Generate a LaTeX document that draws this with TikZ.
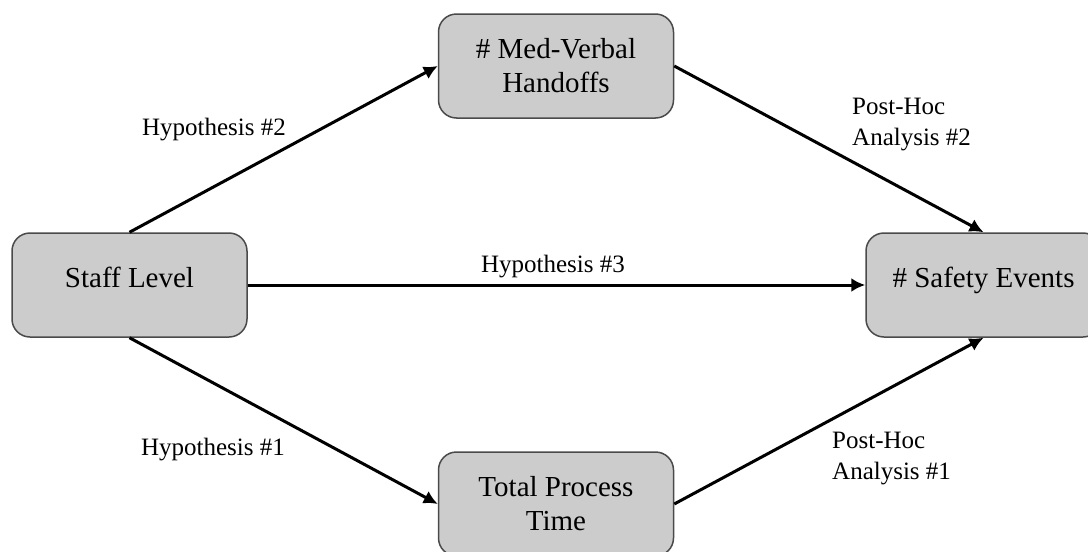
\documentclass[tikz,border=0pt]{standalone}
\usepackage{fontspec}
\setmainfont{Liberation Serif}
\usetikzlibrary{arrows.meta}
\definecolor{boxfill}{HTML}{CCCCCC}
\definecolor{boxline}{HTML}{4A4A4A}
\begin{document}
\begin{tikzpicture}[x=1pt,y=-1pt,
  box/.style={draw=boxline, line width=1.5pt, fill=boxfill, rounded corners=18pt,
    minimum width=235pt, minimum height=104pt, inner sep=0pt, align=center,
    font=\fontsize{29}{34}\selectfont},
  onebox/.style={box, text height=20pt, text depth=16pt},
  lbl/.style={inner sep=0pt, font=\fontsize{25}{31}\selectfont},
  conn/.style={draw=black, line width=3pt, -{Latex[length=14pt,width=14pt]}}]
\useasboundingbox (0,0) rectangle (1088,552);
\fill[white] (0,0) rectangle (1088,552);
\node[onebox] (staff) at (129.5,285) {Staff Level};
\node[box] (med) at (556,66) {\# Med-Verbal\\Handoffs};
\node[box] (total) at (556,504) {Total Process\\Time};
\node[onebox] (safety) at (983.5,285) {\# Safety Events};

\draw[conn] (staff.north) -- (med.west);
\draw[conn] (med.east) -- (safety.north);
\draw[conn] (staff.east) -- (safety.west);
\draw[conn] (staff.south) -- (total.west);
\draw[conn] (total.east) -- (safety.south);

\node[lbl] (h2) at (214,130) {Hypothesis \#2};
\node[lbl] (h3) at (553,267) {Hypothesis \#3};
\node[lbl] (h1) at (213,450) {Hypothesis \#1};
\node[lbl, anchor=west, align=left] (p2) at (852,125) {Post-Hoc\\Analysis \#2};
\node[lbl, anchor=west, align=left] (p1) at (832,459) {Post-Hoc\\Analysis \#1};
\end{tikzpicture}
\end{document}
